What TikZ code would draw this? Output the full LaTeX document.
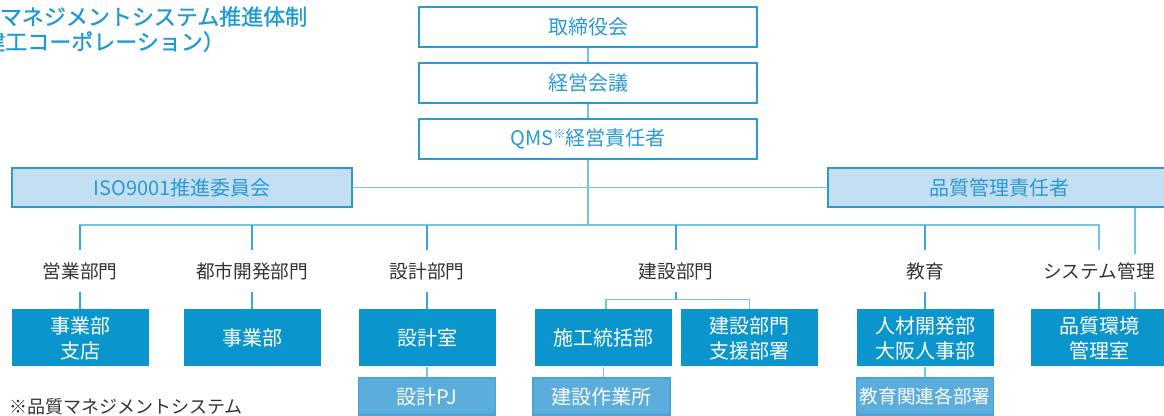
\documentclass[tikz,border=0pt]{standalone}
\usepackage{fontspec}
\setmainfont{Noto Sans CJK JP}
\newfontfamily\ttlfont[FakeBold=0.9]{Noto Sans CJK JP}
\definecolor{bblue}{HTML}{2A9AD2}
\definecolor{lfill}{HTML}{C4DFF1}
\definecolor{dfill}{HTML}{0A96CC}
\definecolor{lbfill}{HTML}{5BAEDC}
\definecolor{lbdraw}{HTML}{4AA3D6}
\definecolor{spine}{HTML}{74C2E8}
\definecolor{drop}{HTML}{3AA6DA}
\definecolor{ttl}{HTML}{1C9AD6}
\definecolor{txt}{HTML}{333333}
\begin{document}
\begin{tikzpicture}[x=0.75pt,y=-0.75pt,
  topbox/.style={draw=bblue,line width=0.9pt,fill=white,inner sep=0pt,
    minimum width=253.5pt,minimum height=30pt,text=bblue,font=\fontsize{15}{18}\selectfont},
  midbox/.style={draw=bblue,line width=0.9pt,fill=lfill,inner sep=0pt,
    minimum height=29.25pt,text=bblue,font=\fontsize{15}{18}\selectfont},
  darkbox/.style={fill=dfill,inner sep=0pt,minimum width=102.75pt,minimum height=42.75pt,
    text=white,align=center,font=\fontsize{15}{18.75}\selectfont},
  lightbox/.style={draw=lbdraw,line width=0.8pt,fill=lbfill,inner sep=0pt,minimum width=102.75pt,
    minimum height=27.75pt,text=white,font=\fontsize{15}{18}\selectfont},
  lab/.style={inner sep=0pt,minimum height=31.5pt,text=txt,font=\fontsize{14}{16}\selectfont},
  spl/.style={draw=spine,line width=1.3pt},
  dl/.style={draw=drop,line width=0.8pt}]
\useasboundingbox (0,0) rectangle (1164,416);
\begin{scope}
\clip (0,0) rectangle (1164,416);
% title (cut off at the left edge, as in the reference)
\node[anchor=base east,inner sep=0pt,text=ttl,font=\ttlfont\fontsize{16.5}{18}\selectfont] (title1) at (307.5,25) {品質マネジメントシステム推進体制};
\node[anchor=base west,inner sep=0pt,text=ttl,font=\ttlfont\fontsize{16.5}{18}\selectfont] (title2) at (-17,50) {建工コーポレーション）};
% top boxes
\node[topbox] (t1) at (588,27) {取締役会};
\node[topbox] (t2) at (588,83) {経営会議};
\node[topbox] (t3) at (588,139) {QMS\raisebox{0.35em}{\fontsize{9}{9}\selectfont ※}経営責任者};
% middle boxes
\node[midbox,minimum width=255pt] (iso) at (182,187.5) {ISO9001推進委員会};
\node[midbox,minimum width=256.5pt] (qm) at (999,187.5) {品質管理責任者};
% labels
\node[lab] (l1) at (80,271) {営業部門};
\node[lab] (l2) at (252,271) {都市開発部門};
\node[lab] (l3) at (427,271) {設計部門};
\node[lab] (l4) at (676,271) {建設部門};
\node[lab] (l5) at (925,271) {教育};
\node[lab] (l6) at (1099,271) {システム管理};
% dark boxes
\node[darkbox] (d1) at (80,338) {事業部\\支店};
\node[darkbox] (d2) at (252,338) {事業部};
\node[darkbox] (d3) at (427,338) {設計室};
\node[darkbox] (d4) at (603.5,338) {施工統括部};
\node[darkbox] (d5) at (749.5,338) {建設部門\\支援部署};
\node[darkbox] (d6) at (925,338) {人材開発部\\大阪人事部};
\node[darkbox] (d7) at (1099,338) {品質環境\\管理室};
% light boxes
\node[lightbox] (p1) at (427,396.5) {設計PJ};
\node[lightbox] (p2) at (601.5,396.5) {建設作業所};
\node[lightbox,font=\fontsize{14}{16}\selectfont] (p3) at (925,396.5) {教育関連各部署};
% footnote
\node[anchor=west,inner sep=0pt,text=txt,font=\fontsize{13.5}{15}\selectfont] (fn) at (9,407) {※品質マネジメントシステム};
% connectors
\coordinate (bus) at (588,225);
\coordinate (sq) at (1135,254);
\draw[spl] (t1) -- (t2);
\draw[spl] (t2) -- (t3);
\draw[spl] (t3) -- (bus);
\draw[spl] (iso) -- (qm);
\draw[spl,line width=1pt] (l1.north) |- (bus) -| (l6.north);
\foreach \n in {l2,l3,l4,l5} \draw[dl] (\n.north) -- (\n.north |- bus);
\draw[dl] (l1.north) -- (l1.north |- bus);
\draw[spl,line width=1pt] (sq |- qm.south) -- (sq);
\draw[spl,line width=1pt] (sq |- l6.south) -- (sq |- d7.north);
\foreach \n/\m in {l1/d1,l2/d2,l3/d3,l5/d6,l6/d7} \draw[dl] (\n.south) -- (\m.north);
\draw[dl] (l4.south) -- ++(0,7) coordinate (cb);
\draw[draw=spine,line width=1pt] ([xshift=1.9pt]d4.north) |- (cb) -| (d5.north);
\draw[spl,line width=1pt] (d3.south) -- (p1.north);
\draw[spl,line width=1pt] (d4.south) -- (d4.south |- p2.north);
\draw[spl,line width=1pt] (d6.south) -- (p3.north);
\end{scope}
\end{tikzpicture}
\end{document}
